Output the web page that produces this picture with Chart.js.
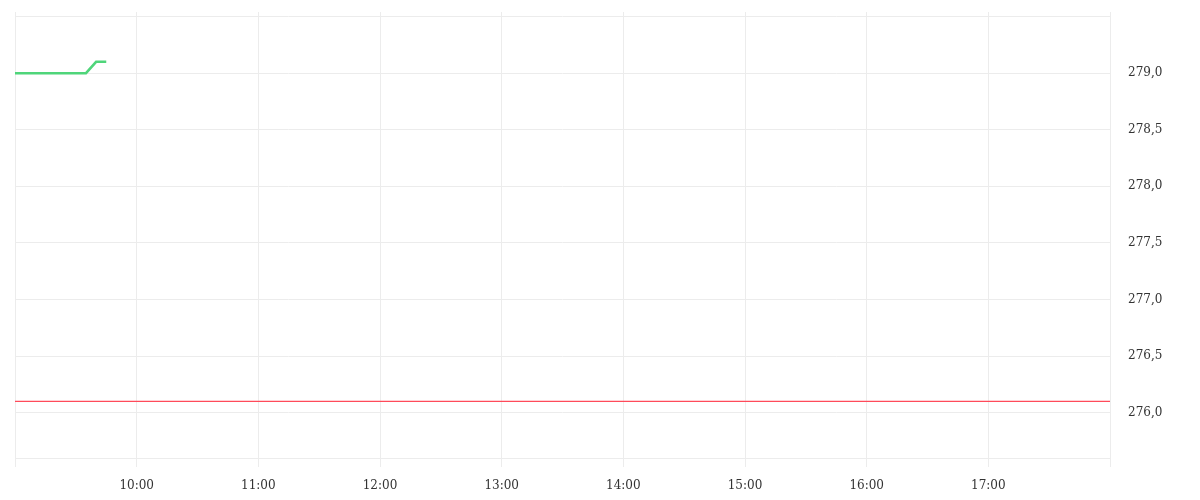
<!DOCTYPE html>
<html>
<head>
<meta charset="utf-8">
<script src="https://cdn.jsdelivr.net/npm/chart.js@4/dist/chart.umd.min.js"></script>
<style>
  html, body { margin:0; padding:0; background:#ffffff; }
  #wrap { width:1200px; height:500px; }
</style>
</head>
<body>
<div id="wrap"><canvas id="priceChart" width="1200" height="500"></canvas></div>
<script>
// ==========================================
// Intraday price chart
// ==========================================

const times = ["09:00","09:05","09:10","09:15","09:20","09:25","09:30","09:35","09:40","09:45"];
const prices = [279.0, 279.0, 279.0, 279.0, 279.0, 279.0, 279.0, 279.0, 279.1, 279.1];

const prevCloseTimes = ["09:00","18:00"];
const prevClose = [276.1, 276.1];

const xTickLabels = ["10:00","11:00","12:00","13:00","14:00","15:00","16:00","17:00"];
const yTickLabels = ["276,0","276,5","277,0","277,5","278,0","278,5","279,0"];

function toMinutes(t){
    const p = t.split(":");
    return Number(p[0]) * 60 + Number(p[1]);
}

function fmtTime(m){
    const h = Math.floor(m / 60);
    const mm = m % 60;
    return String(h).padStart(2,"0") + ":" + String(mm).padStart(2,"0");
}

const gridColor = "#ececec";

new Chart(

    document.getElementById("priceChart"),

    {

        type:"line",

        data:{

            datasets:[

                {
                    data:times.map((t,i) => ({x:toMinutes(t), y:prices[i]})),
                    borderColor:"#4fd57a",
                    borderWidth:2.5,
                    pointRadius:0,
                    tension:0
                },

                {
                    data:prevCloseTimes.map((t,i) => ({x:toMinutes(t), y:prevClose[i]})),
                    borderColor:"#ff4a5a",
                    borderWidth:1.4,
                    pointRadius:0,
                    tension:0
                }

            ]

        },

        options:{

            responsive:false,
            animation:false,
            layout:{ padding:{ left:15, top:12, right:0, bottom:0 } },

            plugins:{
                legend:{ display:false },
                tooltip:{ enabled:false }
            },

            scales:{

                x:{
                    type:"linear",
                    min:toMinutes("09:00"),
                    max:toMinutes("18:00"),
                    grid:{ color:gridColor, tickLength:9 },
                    border:{ color:gridColor },
                    afterFit:(s) => { s.height = 42; },
                    ticks:{
                        stepSize:60,
                        autoSkip:false,
                        maxRotation:0,
                        padding:12,
                        color:"#333333",
                        font:{ family:"DejaVu Serif", size:12 },
                        callback:(v) => {
                            const lbl = fmtTime(v);
                            return xTickLabels.includes(lbl) ? lbl : "";
                        }
                    }
                },

                y:{
                    position:"right",
                    min:275.6,
                    max:279.54,
                    grid:{ color:gridColor, drawTicks:false },
                    border:{ color:gridColor },
                    afterFit:(s) => {
                        s.width = 90;
                        s.paddingTop = 0;
                        s.paddingBottom = 0;
                    },
                    ticks:{
                        stepSize:0.5,
                        includeBounds:false,
                        padding:18,
                        color:"#333333",
                        font:{ family:"DejaVu Serif", size:12 },
                        callback:(v) => {
                            const lbl = v.toFixed(1).replace(".", ",");
                            return yTickLabels.includes(lbl) ? lbl : "";
                        }
                    }
                }

            }

        }

    }

);
</script>
</body>
</html>
